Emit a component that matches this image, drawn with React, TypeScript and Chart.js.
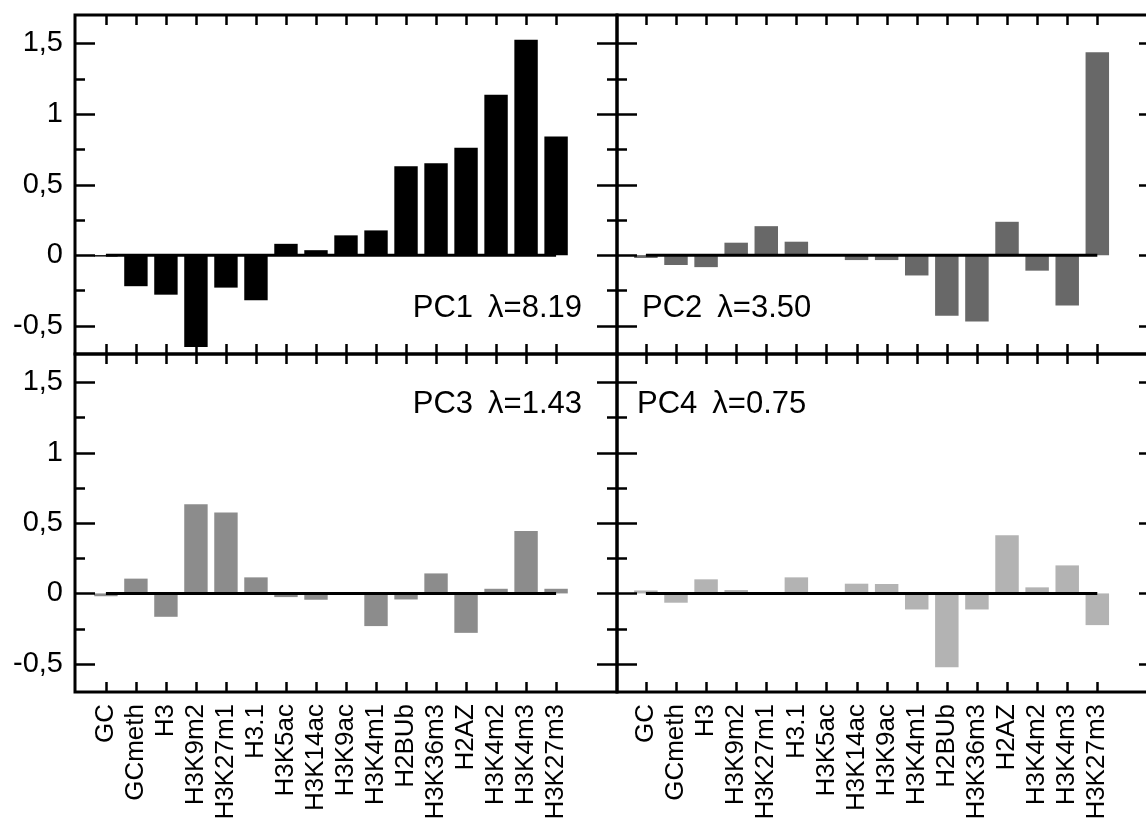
import React, { useEffect, useRef } from "react";
import Chart from "chart.js/auto";

const categories = ["GC", "GCmeth", "H3", "H3K9m2", "H3K27m1", "H3.1", "H3K5ac", "H3K14ac", "H3K9ac", "H3K4m1", "H2BUb", "H3K36m3", "H2AZ", "H3K4m2", "H3K4m3", "H3K27m3"];
const pc1 = [-0.01, -0.22, -0.28, -0.65, -0.23, -0.32, 0.08, 0.035, 0.14, 0.175, 0.63, 0.65, 0.76, 1.135, 1.525, 0.84];
const pc2 = [-0.02, -0.07, -0.085, 0.088, 0.205, 0.095, 0.0, -0.035, -0.035, -0.144, -0.43, -0.47, 0.236, -0.11, -0.356, 1.437];
const pc3 = [-0.02, 0.105, -0.166, 0.633, 0.574, 0.114, -0.026, -0.045, 0.0, -0.232, -0.043, 0.142, -0.28, 0.033, 0.443, 0.033];
const pc4 = [0.021, -0.066, 0.1, 0.024, 0.0, 0.114, 0.0, 0.069, 0.067, -0.114, -0.524, -0.114, 0.413, 0.043, 0.199, -0.225];
const componentNames = ["PC1", "PC2", "PC3", "PC4"];
const eigenvalues = ["8.19", "3.50", "1.43", "0.75"];
const yMajorTicks = [-0.5, 0, 0.5, 1, 1.5];
const yMinorTicks = [-0.25, 0.25, 0.75, 1.25];

const FONT = "'Liberation Sans', Arial, Helvetica, sans-serif";
const W = 1146;
const H = 820;
const CW = 1175;

type Panel = {
  values: number[];
  color: string;
  name: string;
  ev: string;
  area: { left: number; top: number; right: number; bottom: number };
  xRange: [number, number];
  showY: boolean;
  showX: boolean;
  titleAlign: "left" | "right";
  titleDx: number;
  titleBaselineDy: number;
};

const panels: Panel[] = [
  { values: pc1, color: "#000000", name: componentNames[0], ev: eigenvalues[0], area: { left: 75, top: 15, right: 617, bottom: 354 }, xRange: [-1.03, 17.03], showY: true, showX: false, titleAlign: "right", titleDx: -35, titleBaselineDy: -37 },
  { values: pc2, color: "#686868", name: componentNames[1], ev: eigenvalues[1], area: { left: 617, top: 15, right: 1159, bottom: 354 }, xRange: [-0.96, 17.05], showY: false, showX: false, titleAlign: "left", titleDx: 25, titleBaselineDy: -37 },
  { values: pc3, color: "#8c8c8c", name: componentNames[2], ev: eigenvalues[2], area: { left: 75, top: 354, right: 617, bottom: 692 }, xRange: [-1.03, 17.03], showY: true, showX: true, titleAlign: "right", titleDx: -35, titleBaselineDy: 59 },
  { values: pc4, color: "#b3b3b3", name: componentNames[3], ev: eigenvalues[3], area: { left: 617, top: 354, right: 1159, bottom: 692 }, xRange: [-0.96, 17.05], showY: false, showX: true, titleAlign: "left", titleDx: 20, titleBaselineDy: 59 },
];

const TITLE_GAP = 15;

const framePlugin = {
  id: "frameTicks",
  afterDatasetsDraw(chart: any, _args: any, opts: any) {
    const { ctx, chartArea } = chart;
    const xs = chart.scales.x;
    const ys = chart.scales.y;
    const { left, right, top, bottom } = chartArea;
    ctx.save();
    ctx.strokeStyle = "#000";
    ctx.lineWidth = 2.5;
    ctx.lineCap = "butt";
    ctx.beginPath();
    yMajorTicks.forEach((v) => {
      const y = Math.round(ys.getPixelForValue(v)) + 0.5;
      ctx.moveTo(left, y); ctx.lineTo(left + 20, y);
      ctx.moveTo(right, y); ctx.lineTo(right - 20, y);
    });
    yMinorTicks.forEach((v) => {
      const y = Math.round(ys.getPixelForValue(v)) + 0.5;
      ctx.moveTo(left, y); ctx.lineTo(left + 10, y);
      ctx.moveTo(right, y); ctx.lineTo(right - 10, y);
    });
    categories.forEach((_c, i) => {
      const x = Math.round(xs.getPixelForValue(i)) + 0.5;
      ctx.moveTo(x, top); ctx.lineTo(x, top + 10);
      ctx.moveTo(x, bottom); ctx.lineTo(x, bottom - 10);
    });
    ctx.stroke();
    ctx.lineWidth = 3;
    ctx.strokeRect(left, top, right - left, bottom - top);
    const p: Panel = opts.panel;
    ctx.fillStyle = "#000";
    ctx.font = `31px ${FONT}`;
    ctx.textAlign = "left";
    ctx.textBaseline = "alphabetic";
    const part1 = p.name;
    const part2 = "λ=" + p.ev;
    const w1 = ctx.measureText(part1).width;
    const w2 = ctx.measureText(part2).width;
    const total = w1 + TITLE_GAP + w2;
    const tx = p.titleAlign === "right" ? right + p.titleDx - total : left + p.titleDx;
    const ty = p.titleBaselineDy < 0 ? bottom + p.titleBaselineDy : top + p.titleBaselineDy;
    ctx.fillText(part1, tx, ty);
    ctx.fillText(part2, tx + w1 + TITLE_GAP, ty);
    ctx.restore();
  },
};

function PanelChart({ panel }: { panel: Panel }) {
  const ref = useRef<HTMLCanvasElement | null>(null);
  useEffect(() => {
    if (!ref.current) return;
    const a = panel.area;
    const xScale: any = {
      type: "linear",
      min: panel.xRange[0],
      max: panel.xRange[1],
      offset: false,
      display: panel.showX,
      grid: { display: false, drawTicks: false },
      border: { display: false },
      afterBuildTicks: (scale: any) => {
        scale.ticks = categories.map((_c, i) => ({ value: i }));
      },
      ticks: {
        autoSkip: false,
        minRotation: 90,
        maxRotation: 90,
        padding: 12,
        color: "#000",
        font: { family: FONT, size: 26 },
        callback: (v: any) => categories[Math.round(Number(v))] ?? "",
      },
    };
    if (panel.showX) {
      xScale.afterFit = (scale: any) => {
        scale.height = H - a.bottom;
        scale.paddingLeft = 0;
        scale.paddingRight = 0;
      };
    }
    const yScale: any = {
      type: "linear",
      min: -0.7,
      max: 1.7,
      display: panel.showY,
      grid: { display: false, drawTicks: false },
      border: { display: false },
      afterBuildTicks: (scale: any) => {
        scale.ticks = yMajorTicks.map((v) => ({ value: v }));
      },
      ticks: {
        padding: 12,
        color: "#000",
        font: { family: FONT, size: 29 },
        callback: (v: any) => String(v).replace(".", ","),
      },
    };
    if (panel.showY) {
      yScale.afterFit = (scale: any) => {
        scale.width = a.left;
        scale.paddingTop = 0;
        scale.paddingBottom = 0;
      };
    }
    const chart = new Chart(ref.current, {
      type: "bar",
      data: {
        datasets: [
          {
            type: "line",
            data: [{ x: 0, y: 0 }, { x: categories.length - 1, y: 0 }],
            borderColor: "#000",
            borderWidth: 3,
            pointRadius: 0,
            order: 0,
          } as any,
          {
            type: "bar",
            data: panel.values.map((v, i) => ({ x: i, y: v })),
            backgroundColor: panel.color,
            borderWidth: 0,
            barPercentage: 0.78,
            categoryPercentage: 1,
            order: 1,
          } as any,
        ],
      },
      options: {
        responsive: false,
        animation: false,
        devicePixelRatio: 1,
        events: [],
        layout: {
          padding: {
            left: panel.showY ? 0 : a.left,
            top: a.top,
            right: CW - a.right,
            bottom: panel.showX ? 0 : H - a.bottom,
          },
        },
        plugins: {
          legend: { display: false },
          tooltip: { enabled: false },
          title: { display: false },
          frameTicks: { panel },
        } as any,
        scales: { x: xScale, y: yScale },
      } as any,
      plugins: [framePlugin],
    });
    return () => chart.destroy();
  }, [panel]);
  return (
    <canvas
      ref={ref}
      width={CW}
      height={H}
      style={{ position: "absolute", left: 0, top: 0, width: CW, height: H }}
    />
  );
}

export default function App() {
  return (
    <div style={{ position: "fixed", left: 0, top: 0, width: W, height: H, overflow: "hidden", background: "#fff" }}>
      {panels.map((p, i) => (
        <PanelChart key={i} panel={p} />
      ))}
    </div>
  );
}
